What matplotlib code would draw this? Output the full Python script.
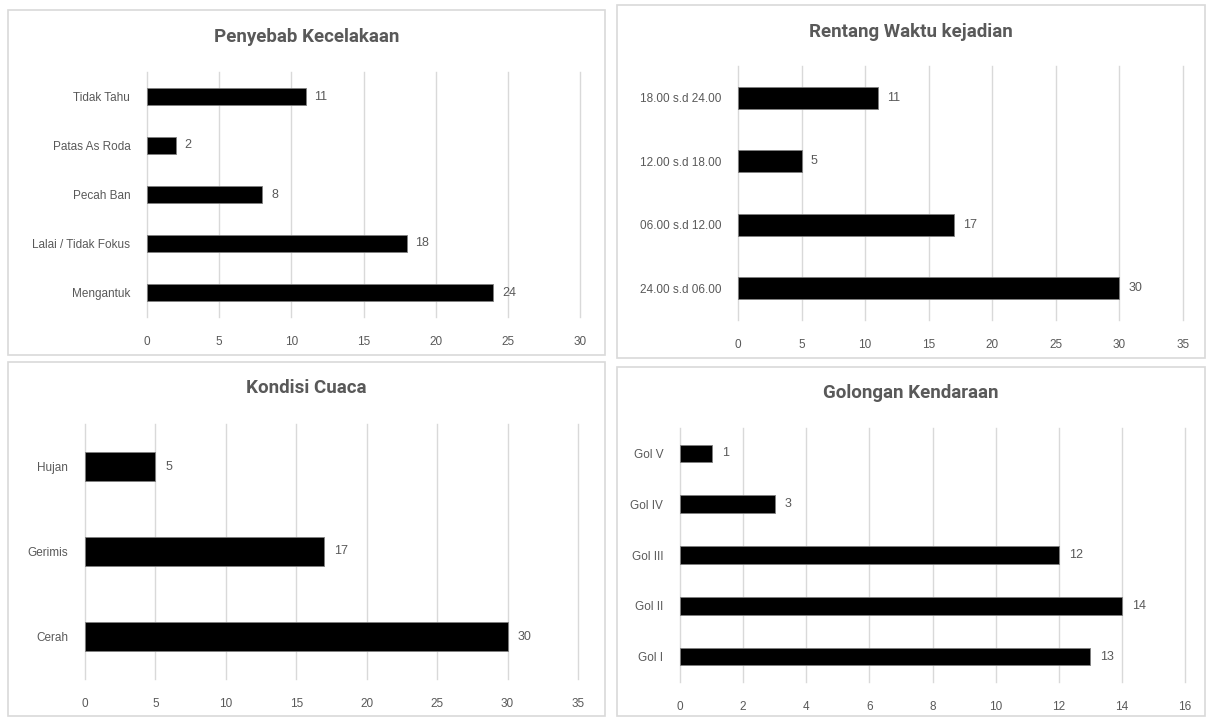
import matplotlib
matplotlib.use('Agg')
import matplotlib.pyplot as plt
from matplotlib.patches import Rectangle

plt.rcParams['font.family'] = ['Liberation Sans', 'DejaVu Sans']

# data
penyebab_labels = ['Mengantuk', 'Lalai / Tidak Fokus', 'Pecah Ban', 'Patas As Roda', 'Tidak Tahu']
penyebab_values = [24, 18, 8, 2, 11]

waktu_labels = ['24.00 s.d 06.00', '06.00 s.d 12.00', '12.00 s.d 18.00', '18.00 s.d 24.00']
waktu_values = [30, 17, 5, 11]

cuaca_labels = ['Cerah', 'Gerimis', 'Hujan']
cuaca_values = [30, 17, 5]

golongan_labels = ['Gol I', 'Gol II', 'Gol III', 'Gol IV', 'Gol V']
golongan_values = [13, 14, 12, 3, 1]

W, H = 1206, 717
fig = plt.figure(figsize=(W / 100, H / 100), dpi=100)
fig.patch.set_facecolor('white')

grey = '#595959'


def px_box(x0, y0, x1, y1):
    # pixel box (top-left origin) -> figure fraction rect
    return [x0 / W, 1 - y1 / H, (x1 - x0) / W, (y1 - y0) / H]


def panel(frame, axbox, title, title_y, labels, values, xmax, step):
    l, b, w, h = px_box(*frame)
    fig.add_artist(Rectangle((l, b), w, h, transform=fig.transFigure,
                             facecolor='white', edgecolor='#d9d9d9', lw=1.2, zorder=0))
    fig.text((frame[0] + frame[2]) / 2 / W, 1 - title_y / H, title,
             ha='center', va='center', fontsize=13.5, fontweight='bold', color=grey,
             family=['Roboto', 'DejaVu Sans'])
    ax = fig.add_axes(px_box(*axbox))
    ax.set_facecolor('none')
    pos = range(len(labels))
    bars = ax.barh(pos, values, height=0.35, color='black', edgecolor='#7f7f7f', lw=0.6, zorder=3)
    ax.set_xlim(0, xmax)
    ax.set_ylim(-0.5, len(labels) - 0.5)
    ax.set_xticks(range(0, xmax + 1, step))
    ax.set_yticks(list(pos))
    ax.set_yticklabels(labels)
    ax.grid(axis='x', color='#d9d9d9', lw=1, zorder=0)
    for g in ax.get_xgridlines():
        g.set_clip_on(False)
    for s in ax.spines.values():
        s.set_visible(False)
    ax.tick_params(length=0, labelsize=8.5, labelcolor=grey)
    ax.tick_params(axis='x', pad=14)
    ax.tick_params(axis='y', pad=12)
    for bar, v in zip(bars, values):
        ax.text(bar.get_width() + xmax * 0.02, bar.get_y() + bar.get_height() / 2, str(v),
                va='center', ha='left', fontsize=9, color=grey)
    return ax


panel((8, 10, 605, 355), (147, 72, 580, 317), 'Penyebab Kecelakaan', 37,
      penyebab_labels, penyebab_values, 30, 5)
panel((617, 5, 1205, 358), (738, 66, 1183, 320), 'Rentang Waktu kejadian', 32,
      waktu_labels, waktu_values, 35, 5)
panel((8, 362, 605, 716), (85, 424, 578, 679), 'Kondisi Cuaca', 388,
      cuaca_labels, cuaca_values, 35, 5)
panel((617, 367, 1205, 716), (680, 428, 1185, 682), 'Golongan Kendaraan', 393,
      golongan_labels, golongan_values, 16, 2)

plt.savefig('out.png', dpi=100)
